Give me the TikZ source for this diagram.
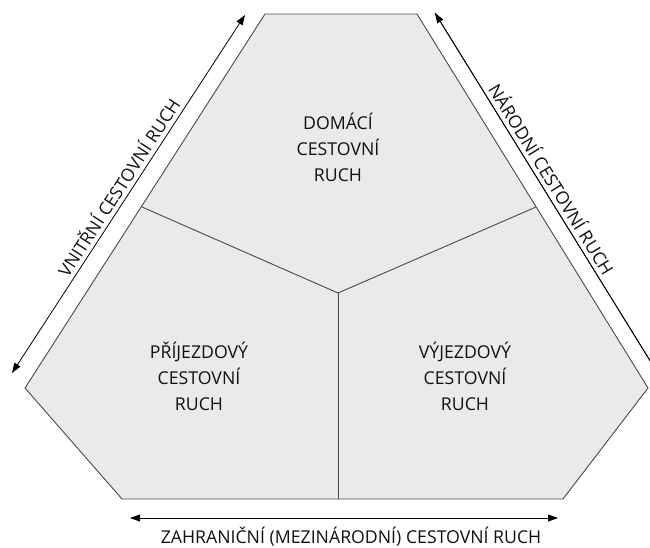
\documentclass[tikz,border=0pt]{standalone}
\usepackage{fontspec}
\setmainfont{Open Sans}
\usetikzlibrary{arrows.meta}
\definecolor{regionfill}{HTML}{EAEAEA}
\definecolor{edgegray}{HTML}{4A4A4A}
\definecolor{textgray}{HTML}{111111}
\newcommand{\labelfont}{\fontsize{17.7}{26}\selectfont}
\tikzset{
  RegionStyle/.style = {align=center, text=textgray, font=\labelfont},
  EdgeStyle/.style   = {draw=edgegray, line width=0.9pt},
  ArrowStyle/.style  = {line width=0.8pt,
                        {Triangle[length=10pt,width=7pt]}-{Triangle[length=10pt,width=7pt]}},
  SideLabel/.style   = {text=textgray, font=\labelfont, sloped, above, inner sep=4pt}
}

\begin{document}
\begin{tikzpicture}[x=1pt,y=-1pt]
	\useasboundingbox (0,0) rectangle (650,547);
	\clip (0,0) rectangle (650,547);
	\coordinate (TL) at (265,14);
	\coordinate (TR) at (417,14);
	\coordinate (R)  at (648,388);
	\coordinate (BR) at (563,499);
	\coordinate (BL) at (122,499);
	\coordinate (L)  at (25,388);
	\coordinate (C)  at (338,293);
	\coordinate (ML) at (142,207);
	\coordinate (MR) at (536,207);
	\coordinate (MB) at (338,499);
	\draw[EdgeStyle, fill=regionfill] (TL) -- (TR) -- (R) -- (BR) -- (BL) -- (L) -- cycle;
	\draw[EdgeStyle] (ML) -- (C) -- (MR);
	\draw[EdgeStyle] (C) -- (MB);
	\node[RegionStyle] (D) at (338,147) {DOMÁCÍ\\CESTOVNÍ\\RUCH};
	\node[RegionStyle] (P) at (199,376) {PŘÍJEZDOVÝ\\CESTOVNÍ\\RUCH};
	\node[RegionStyle] (V) at (465,376) {VÝJEZDOVÝ\\CESTOVNÍ\\RUCH};
	\coordinate (A1) at (12,373);
	\coordinate (A2) at (245,15);
	\coordinate (N1) at (435,13);
	\coordinate (N2) at (662,380);
	\coordinate (Z1) at (130,518);
	\coordinate (Z2) at (558,518);
	\draw[ArrowStyle] (A1) -- node[SideLabel, pos=0.5] (VN) {VNITŘNÍ CESTOVNÍ RUCH} (A2);
	\draw[ArrowStyle, -] (N1) -- node[SideLabel, pos=0.47] (NA) {NÁRODNÍ CESTOVNÍ RUCH} (N2);
	\draw[ArrowStyle, {Triangle[length=10pt,width=7pt]}-] (N1) -- (N2);
	\draw[ArrowStyle] (Z1) -- (Z2);
	\node[text=textgray, font=\labelfont] (ZA) at (351,537) {ZAHRANIČNÍ (MEZINÁRODNÍ) CESTOVNÍ RUCH};
\end{tikzpicture}
\end{document}
